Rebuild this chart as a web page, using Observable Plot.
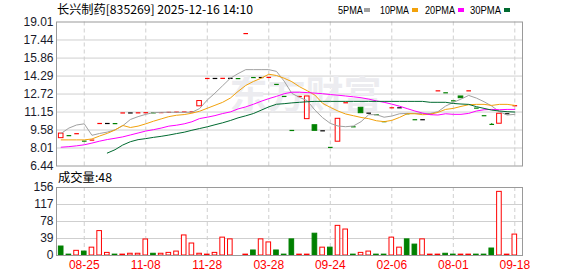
<!DOCTYPE html>
<html><head><meta charset="utf-8">
<script src="https://cdn.jsdelivr.net/npm/d3@7"></script>
<script src="https://cdn.jsdelivr.net/npm/@observablehq/plot@0.6"></script>
<style>
body{margin:0;background:#fff;}
#wrap{position:relative;width:578px;height:276px;overflow:hidden;background:#fff;}
#wrap svg{position:absolute;left:0;top:0;}
</style></head><body><div id="wrap"></div>
<script>
// ---- data ----
const titleText = "长兴制药[835269] 2025-12-16 14:10";
const volumeTitle = "成交量:48";
const maNames = ["5PMA", "10PMA", "20PMA", "30PMA"];
const prevClose = 9.5;
const open = [8.87, 9.09, 9.26, 8.61, 8.70, 10.15, 10.15, 10.14, 11.07, 11.07, 11.08, 11.09, 11.08, 11.10, 11.12, 11.14, 11.15, 11.16, 11.65, 14.08, 14.08, 14.09, 14.09, 14.07, 18.00, 14.16, 14.16, 14.17, 13.56, 12.51, 9.54, 12.51, 10.53, 10.00, 9.51, 8.06, 8.56, 11.96, 9.86, 11.52, 11.05, 10.92, 10.31, 11.52, 11.52, 11.00, 10.48, 10.48, 10.98, 13.00, 12.83, 12.13, 12.51, 13.00, 11.49, 10.83, 10.07, 10.13, 11.00, 11.70];
const high = [9.27, 9.09, 9.26, 8.61, 8.70, 10.15, 10.15, 10.14, 11.07, 11.07, 11.08, 11.09, 11.08, 11.10, 11.12, 11.14, 11.15, 11.16, 12.11, 14.08, 14.08, 14.09, 14.09, 14.07, 18.00, 14.16, 14.16, 14.17, 13.56, 12.51, 9.54, 12.51, 12.51, 10.00, 9.51, 8.06, 10.56, 11.96, 9.86, 11.52, 11.05, 10.92, 10.31, 11.52, 11.52, 11.00, 10.48, 10.48, 10.98, 13.00, 12.83, 12.13, 12.51, 13.00, 11.49, 10.83, 10.15, 11.00, 11.00, 11.70];
const low = [8.87, 9.09, 9.26, 8.61, 8.70, 10.15, 10.15, 10.14, 11.07, 11.07, 11.08, 11.09, 11.08, 11.10, 11.12, 11.14, 11.15, 11.16, 11.65, 14.08, 14.08, 14.09, 14.09, 14.07, 18.00, 14.16, 14.16, 14.17, 13.56, 12.51, 9.54, 12.51, 10.53, 9.51, 9.51, 8.06, 8.56, 11.96, 9.86, 11.05, 11.05, 10.92, 10.31, 11.52, 11.52, 11.00, 10.48, 10.48, 10.98, 13.00, 12.83, 12.13, 12.36, 13.00, 11.49, 10.83, 10.07, 10.13, 11.00, 11.70];
const close = [9.27, 9.09, 9.26, 8.61, 8.70, 10.15, 10.15, 10.14, 11.07, 11.07, 11.08, 11.09, 11.08, 11.10, 11.12, 11.14, 11.15, 11.16, 12.11, 14.08, 14.08, 14.09, 14.09, 14.07, 18.00, 14.16, 14.16, 14.17, 13.56, 12.51, 9.54, 12.51, 12.51, 9.51, 9.51, 8.06, 10.56, 11.96, 9.86, 11.05, 11.05, 10.92, 10.31, 11.52, 11.52, 11.00, 10.48, 10.48, 10.98, 13.00, 12.83, 12.13, 12.36, 13.00, 11.49, 10.83, 10.07, 11.00, 11.00, 11.70];
const volume = [20.6, 2, 10.7, 9, 18, 56, 6, 2, 2, 4, 4, 36.7, 4, 4, 6, 9, 46, 27.5, 4, 2, 6, 41, 37, 0, 2, 11.5, 37, 30, 11.5, 2, 37, 2, 2, 50, 18, 18, 68, 59.6, 2, 6, 9, 2, 2, 41, 18, 37, 25, 37, 2, 2, 4, 2, 2, 2, 2, 2, 16, 146, 2, 48];
const ma5 = [9.29, 9.75, 10.02, 10.12, 9.12, 9.28, 9.40, 9.60, 9.95, 10.50, 10.75, 10.95, 11.10, 11.12, 11.13, 11.12, 11.12, 11.13, 11.45, 12.20, 12.80, 13.45, 14.10, 14.50, 14.85, 14.85, 14.85, 14.85, 14.70, 13.85, 12.78, 12.43, 12.14, 11.32, 10.66, 10.16, 9.93, 9.87, 9.93, 10.31, 10.92, 10.92, 10.70, 10.80, 11.00, 11.03, 11.03, 11.03, 11.03, 11.18, 11.67, 11.99, 12.28, 12.60, 12.37, 12.05, 11.67, 11.18, 10.89, 10.95];
const ma10 = [8.72, 8.72, 8.72, 8.72, 8.80, 9.06, 9.29, 9.58, 9.98, 9.80, 9.92, 10.12, 10.35, 10.55, 10.75, 10.87, 10.93, 11.05, 11.22, 11.48, 11.74, 12.00, 12.37, 12.95, 13.47, 13.82, 14.10, 14.45, 14.34, 14.10, 13.80, 13.36, 13.01, 12.63, 11.91, 11.56, 11.24, 10.98, 10.83, 10.68, 10.57, 10.39, 10.31, 10.42, 10.68, 11.00, 11.00, 10.92, 10.95, 11.12, 11.38, 11.47, 11.64, 11.79, 11.82, 11.82, 11.73, 11.82, 11.82, 11.73];
const ma20 = [8.08, 8.13, 8.20, 8.29, 8.44, 8.61, 8.75, 8.86, 8.98, 9.15, 9.32, 9.49, 9.61, 9.75, 9.92, 10.00, 10.12, 10.30, 10.58, 10.70, 10.84, 11.02, 11.16, 11.42, 11.60, 11.83, 12.09, 12.32, 12.52, 12.75, 12.88, 12.88, 12.85, 12.80, 12.75, 12.68, 12.62, 12.55, 12.48, 12.40, 12.28, 12.12, 12.00, 11.84, 11.66, 11.45, 11.24, 11.06, 10.92, 10.89, 11.00, 10.95, 10.95, 11.03, 11.24, 11.35, 11.38, 11.35, 11.38, 11.38];
const ma30 = [null, null, null, null, null, null, 7.57, 7.86, 8.27, 8.56, 8.74, 8.83, 8.94, 9.03, 9.14, 9.27, 9.39, 9.56, 9.71, 9.86, 10.04, 10.21, 10.41, 10.64, 10.82, 11.02, 11.31, 11.60, 11.83, 11.88, 11.95, 12.00, 12.05, 12.08, 12.08, 12.08, 12.08, 12.08, 12.08, 12.08, 12.08, 12.08, 12.08, 12.08, 12.08, 12.08, 12.08, 12.08, 12.00, 12.00, 12.00, 11.90, 11.85, 11.82, 11.62, 11.47, 11.32, 11.24, 11.18, 11.15];
const priceTicks = [6.44, 8.01, 9.58, 11.15, 12.72, 14.29, 15.86, 17.44, 19.01];
const volumeTicks = [0, 39, 78, 117, 156];
const dateTickIndex = [3, 11, 19, 27, 35, 43, 51, 59];
const dateTickLabels = ["08-25", "11-08", "11-28", "03-28", "09-24", "02-06", "08-01", "09-18"];

// ---- styles ----
const RED = "#ff0000", GREEN = "#008000", BLACK = "#000000";
const maColors = ["#a0a0a0", "#f2a20c", "#ff00ff", "#006a30"];
const GRID = "#cfcfcf", FRAME = "#9a9a9a";
const W = 578, H = 276, ML = 56, MR = 56;
const xDomain = [-0.611, 60.0];
const half = 0.3;

const N = close.length;
const idx = d3.range(N);
const prev = i => i === 0 ? prevClose : close[i - 1];
const boxes = idx.filter(i => open[i] !== close[i]);
const dashes = idx.filter(i => open[i] === close[i]);
const wicks = idx.filter(i => high[i] > Math.max(open[i], close[i]) || low[i] < Math.min(open[i], close[i]));
const dashColor = i => close[i] > prev(i) ? RED : close[i] < prev(i) ? GREEN : BLACK;
const candleColor = i => close[i] > open[i] ? RED : close[i] < open[i] ? GREEN : dashColor(i);
const volUp = i => close[i] >= prev(i);
const mas = [ma5, ma10, ma20, ma30];

const font = {fontFamily: "'Liberation Sans', Arial, sans-serif", fontSize: "12px", background: "transparent", overflow: "visible"};

const price = Plot.plot({
  width: W, height: H,
  marginLeft: ML, marginRight: MR, marginTop: 21.5, marginBottom: 110.5,
  x: {type: "linear", domain: xDomain, axis: null},
  y: {domain: [6.44, 19.01]},
  color: {type: "identity"},
  style: font,
  marks: [
    Plot.ruleY(priceTicks.slice(1, -1), {stroke: GRID}),
    Plot.ruleX(dateTickIndex, {stroke: GRID, strokeDasharray: "4,3"}),
    Plot.text(["东方财富"], {frameAnchor: "middle", dx: 16, dy: 2, fontSize: 38, fontWeight: "bold", fill: "#ececf0", fontFamily: "'Noto Sans CJK SC', sans-serif"}),
    Plot.ruleX(wicks, {x: i => i, y1: i => low[i], y2: i => high[i], stroke: candleColor}),
    Plot.rect(boxes, {x1: i => i - half, x2: i => i + half, y1: i => open[i], y2: i => close[i],
      fill: i => close[i] > open[i] ? "#ffffff" : GREEN, stroke: candleColor, strokeWidth: 1}),
    Plot.link(dashes, {x1: i => i - half, x2: i => i + half, y1: i => close[i], y2: i => close[i], stroke: dashColor, strokeWidth: 1.2}),
    ...mas.map((m, k) => Plot.line(idx, {x: i => i, y: i => m[i] == null ? NaN : m[i], stroke: maColors[k], strokeWidth: 1})),
    Plot.frame({stroke: FRAME}),
    Plot.axisY(priceTicks, {tickSize: 0, tickPadding: 3, tickFormat: d => d.toFixed(2), fill: "#1a1a2a", label: null}),
  ]
});

const vol = Plot.plot({
  width: W, height: H,
  marginLeft: ML, marginRight: MR, marginTop: 187, marginBottom: 21,
  x: {type: "linear", domain: xDomain},
  y: {domain: [0, 156]},
  color: {type: "identity"},
  style: font,
  marks: [
    Plot.ruleY(volumeTicks.slice(1, -1), {stroke: GRID}),
    Plot.ruleX(dateTickIndex, {stroke: GRID, strokeDasharray: "4,3"}),
    Plot.rect(idx.filter(i => volume[i] > 0), {x1: i => i - half, x2: i => i + half, y1: 0, y2: i => volume[i],
      fill: i => volUp(i) ? "#ffffff" : GREEN, stroke: i => volUp(i) ? RED : GREEN, strokeWidth: 1}),
    Plot.frame({stroke: FRAME}),
    Plot.axisY(volumeTicks, {tickSize: 0, tickPadding: 3, fill: "#1a1a2a", label: null}),
    Plot.axisX(dateTickIndex, {tickSize: 0, tickPadding: 5, tickFormat: d => dateTickLabels[dateTickIndex.indexOf(d)], fill: RED, label: null}),
  ]
});

const wrap = document.getElementById("wrap");
wrap.appendChild(price);
wrap.appendChild(vol);

// header texts and legend (real text)
const svg = d3.select(wrap).append("svg").attr("width", W).attr("height", H)
  .style("font-family", "'Noto Sans CJK SC', 'Liberation Sans', sans-serif").style("pointer-events", "none");
svg.append("text").attr("x", 57).attr("y", 14).attr("font-size", 12).attr("fill", "#000")
  .attr("textLength", 196).attr("lengthAdjust", "spacingAndGlyphs").text(titleText);
const legX = [338, 380, 425, 470], legLen = [25, 29, 30, 31], swX = [364, 412, 458, 504];
maNames.forEach((n, k) => {
  svg.append("text").attr("x", legX[k]).attr("y", 14).attr("font-size", 11).attr("fill", "#000")
    .attr("font-family", "'Liberation Sans', sans-serif")
    .attr("textLength", legLen[k]).attr("lengthAdjust", "spacingAndGlyphs").text(n);
  svg.append("rect").attr("x", swX[k]).attr("y", 8).attr("width", 6).attr("height", 4).attr("fill", maColors[k]);
});
svg.append("text").attr("x", 58).attr("y", 182).attr("font-size", 12).attr("fill", "#000")
  .attr("textLength", 54).attr("lengthAdjust", "spacingAndGlyphs").text(volumeTitle);
</script></body></html>
